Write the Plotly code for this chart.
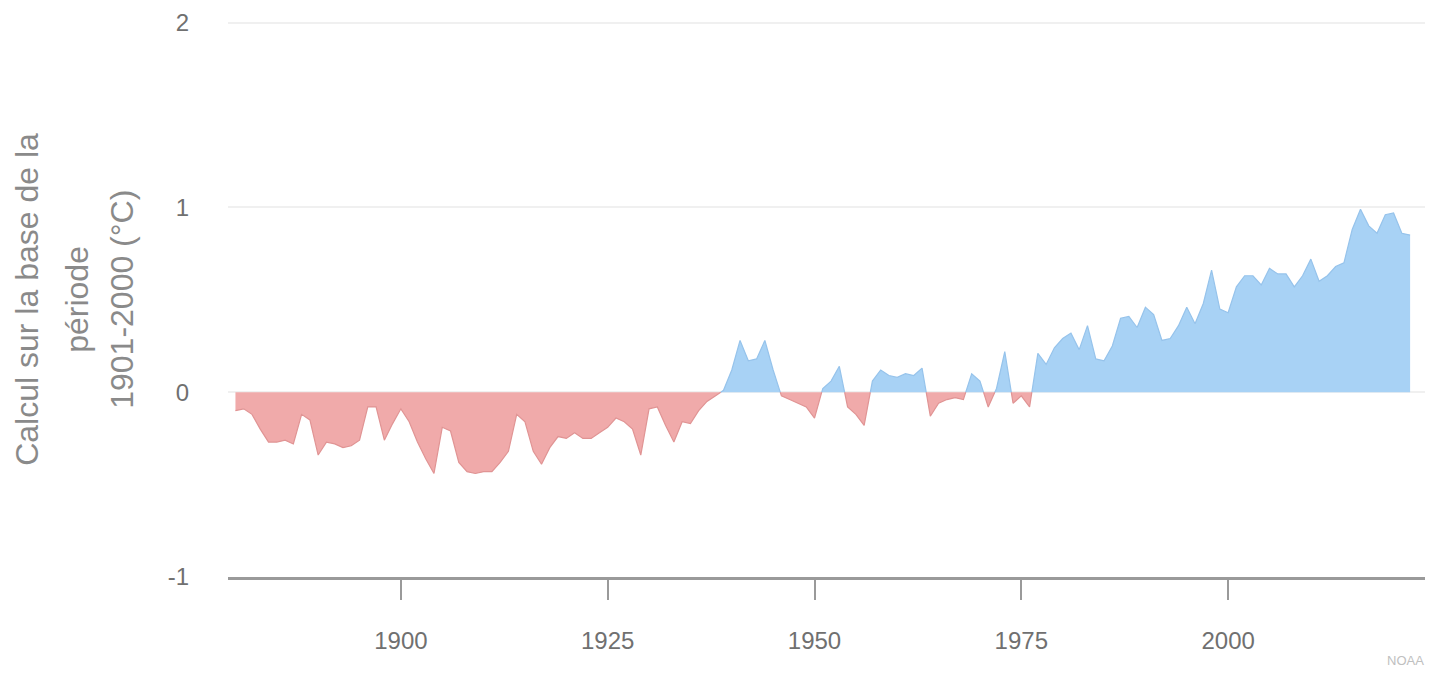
import plotly.graph_objects as go

# ---- data ----
years = list(range(1880, 2023))
anomaly = [
    -0.10, -0.09, -0.12, -0.20, -0.27, -0.27, -0.26, -0.28, -0.12, -0.15,   # 1880s
    -0.34, -0.27, -0.28, -0.30, -0.29, -0.26, -0.08, -0.08, -0.26, -0.17,   # 1890s
    -0.09, -0.16, -0.27, -0.36, -0.44, -0.19, -0.21, -0.38, -0.43, -0.44,   # 1900s
    -0.43, -0.43, -0.38, -0.32, -0.12, -0.16, -0.32, -0.39, -0.30, -0.24,   # 1910s
    -0.25, -0.22, -0.25, -0.25, -0.22, -0.19, -0.14, -0.16, -0.20, -0.34,   # 1920s
    -0.09, -0.08, -0.18, -0.27, -0.16, -0.17, -0.10, -0.05, -0.02, 0.01,    # 1930s
    0.12, 0.28, 0.17, 0.18, 0.28, 0.12, -0.02, -0.04, -0.06, -0.08,         # 1940s
    -0.14, 0.02, 0.06, 0.14, -0.08, -0.12, -0.18, 0.06, 0.12, 0.09,         # 1950s
    0.08, 0.10, 0.09, 0.13, -0.13, -0.06, -0.04, -0.03, -0.04, 0.10,        # 1960s
    0.06, -0.08, 0.02, 0.22, -0.06, -0.02, -0.08, 0.21, 0.15, 0.24,         # 1970s
    0.29, 0.32, 0.23, 0.36, 0.18, 0.17, 0.25, 0.40, 0.41, 0.35,             # 1980s
    0.46, 0.42, 0.28, 0.29, 0.36, 0.46, 0.37, 0.48, 0.66, 0.45,             # 1990s
    0.43, 0.57, 0.63, 0.63, 0.58, 0.67, 0.64, 0.64, 0.57, 0.63,             # 2000s
    0.72, 0.60, 0.63, 0.68, 0.70, 0.88, 0.99, 0.90, 0.86, 0.96,             # 2010s
    0.97, 0.86, 0.85,                                                       # 2020s
]
x_ticks = [1900, 1925, 1950, 1975, 2000]
x_tick_labels = ["1900", "1925", "1950", "1975", "2000"]
y_ticks = [-1, 0, 1, 2]
y_tick_labels = ["-1", "0", "1", "2"]
y_title_lines = ["Calcul sur la base de la", "période", "1901-2000 (°C)"]
source_label = "NOAA"

# ---- split series at zero so that each sign gets its own colour ----
px_, py_ = [], []
for i, (x, v) in enumerate(zip(years, anomaly)):
    px_.append(x)
    py_.append(v)
    if i + 1 < len(years):
        v2 = anomaly[i + 1]
        if v * v2 < 0:
            xc = x + v / (v - v2) * (years[i + 1] - x)
            px_.append(xc)
            py_.append(0.0)
pos_y = [v if v >= 0 else None for v in py_]
neg_y = [v if v <= 0 else None for v in py_]

W, H = 1442, 686
Y_MIN, Y_MAX = -1.0, 2.03
L, R, T, B = 228, 17, 9, 109
plot_w = W - L - R
plot_h = H - T - B

fig = go.Figure()
fig.add_trace(go.Scatter(
    x=px_, y=neg_y, mode="lines", fill="tozeroy",
    line=dict(color="rgb(224,148,148)", width=1.2),
    fillcolor="rgb(240,170,170)", connectgaps=False, hoverinfo="skip",
    showlegend=False))
fig.add_trace(go.Scatter(
    x=px_, y=pos_y, mode="lines", fill="tozeroy",
    line=dict(color="rgb(150,195,235)", width=1.2),
    fillcolor="rgb(168,210,245)", connectgaps=False, hoverinfo="skip",
    showlegend=False))

line_px = [27, 77, 122]
annotations = []
for txt, p in zip(y_title_lines, line_px):
    annotations.append(dict(
        text=txt, textangle=-90, xref="paper", yref="paper",
        x=(p - L) / plot_w, y=(0.5 * (Y_MIN + Y_MAX) - Y_MIN) / (Y_MAX - Y_MIN) - 0.005,
        xanchor="center", yanchor="middle",
        showarrow=False, font=dict(size=32, color="#8a8a8a")))
annotations.append(dict(
    text=source_label, xref="paper", yref="paper",
    x=(1405 - L) / plot_w, y=-(662 - (H - B)) / plot_h,
    xanchor="center", yanchor="middle", showarrow=False,
    font=dict(size=13, color="#c0c0c0")))

fig.update_layout(
    width=W, height=H,
    margin=dict(l=L, r=R, t=T, b=B),
    paper_bgcolor="white", plot_bgcolor="white",
    font=dict(family="Liberation Sans, Arial, sans-serif"),
    annotations=annotations,
    xaxis=dict(
        range=[1879.1, 2023.8], tickvals=x_ticks, ticktext=x_tick_labels,
        ticks="outside", ticklen=20, tickwidth=2, tickcolor="#9a9a9a",
        showline=True, linecolor="#9a9a9a", linewidth=3,
        showgrid=False, zeroline=False,
        ticklabelstandoff=20,
        tickfont=dict(size=24, color="#707070"),
    ),
    yaxis=dict(
        range=[Y_MIN, Y_MAX], tickvals=y_ticks, ticktext=y_tick_labels,
        showgrid=True, gridcolor="#f0f0f0", gridwidth=2,
        zeroline=False, showline=False, ticks="",
        ticklabelstandoff=38,
        tickfont=dict(size=24, color="#707070"),
    ),
)

fig.write_html("out.html", config={"displayModeBar": False},
               post_script="document.body.style.margin='0';")
